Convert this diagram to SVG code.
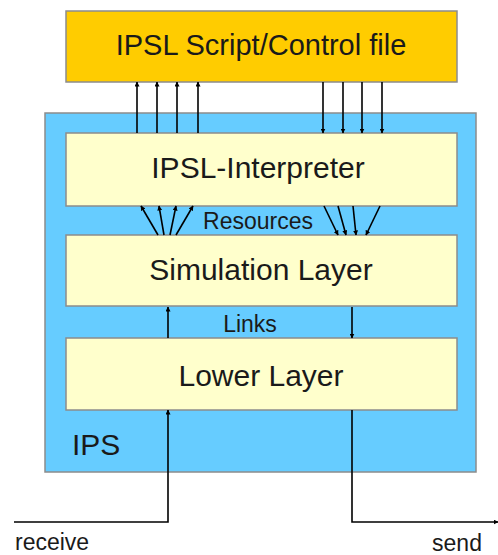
<svg xmlns="http://www.w3.org/2000/svg" width="498" height="555" viewBox="0 0 498 555">
<defs>
<marker id="ah" viewBox="0 0 10 10" refX="9" refY="5" markerWidth="5" markerHeight="5" orient="auto-start-reverse" markerUnits="userSpaceOnUse">
<path d="M0,0 L10,5 L0,10 z" fill="#000"/>
</marker>
<style>
.box{stroke:#8c8c8c;stroke-width:1.5}
.t{font-family:"Liberation Sans",Arial,sans-serif;fill:#1a1a1a;text-anchor:middle}
.c{stroke:#000;stroke-width:1.6;fill:none}
.a{marker-end:url(#ah)}
</style>
</defs>
<rect width="498" height="555" fill="#fff"/>
<g id="ips">
<rect class="box" x="45" y="113" width="431" height="359" fill="#66CCFF"/>
<text class="t" x="72" y="455" style="text-anchor:start;font-size:30px">IPS</text>
</g>
<g id="control">
<rect class="box" x="66" y="11" width="391" height="71" fill="#FFCC00"/>
<text class="t" x="261" y="55" font-size="29">IPSL Script/Control file</text>
</g>
<g id="interpreter">
<rect class="box" x="66" y="133" width="391" height="73" fill="#FFFFCC"/>
<text class="t" x="258" y="178" font-size="30">IPSL-Interpreter</text>
</g>
<g id="simulation">
<rect class="box" x="66" y="235" width="391" height="71" fill="#FFFFCC"/>
<text class="t" x="261" y="280" font-size="30">Simulation Layer</text>
</g>
<g id="lower">
<rect class="box" x="66" y="338" width="391" height="72" fill="#FFFFCC"/>
<text class="t" x="261" y="386" font-size="30">Lower Layer</text>
</g>
<g id="connectors">
<line class="c a" x1="137" y1="133" x2="137" y2="82"/>
<line class="c a" x1="157" y1="133" x2="157" y2="82"/>
<line class="c a" x1="177" y1="133" x2="177" y2="82"/>
<line class="c a" x1="198" y1="133" x2="198" y2="82"/>
<line class="c a" x1="323" y1="82" x2="323" y2="133"/>
<line class="c a" x1="343" y1="82" x2="343" y2="133"/>
<line class="c a" x1="362" y1="82" x2="362" y2="133"/>
<line class="c a" x1="382" y1="82" x2="382" y2="133"/>
<line class="c a" x1="158" y1="235" x2="141" y2="206"/>
<line class="c a" x1="164" y1="235" x2="159" y2="206"/>
<line class="c a" x1="170" y1="235" x2="176" y2="206"/>
<line class="c a" x1="176" y1="235" x2="193" y2="206"/>
<line class="c a" x1="324" y1="206" x2="338" y2="235"/>
<line class="c a" x1="338" y1="206" x2="346" y2="235"/>
<line class="c a" x1="353" y1="206" x2="356" y2="235"/>
<line class="c a" x1="380" y1="206" x2="366" y2="235"/>
<text class="t" x="258" y="229" font-size="23">Resources</text>
<line class="c a" x1="168" y1="338" x2="168" y2="307"/>
<line class="c a" x1="352" y1="307" x2="352" y2="338"/>
<text class="t" x="250" y="332" font-size="23">Links</text>
<polyline class="c a" points="14,522 168,522 168,410"/>
<polyline class="c a" points="352,410 352,522 498,522"/>
<text class="t" x="15" y="550" font-size="23" style="text-anchor:start">receive</text>
<text class="t" x="457" y="551" font-size="23">send</text>
</g>
</svg>
